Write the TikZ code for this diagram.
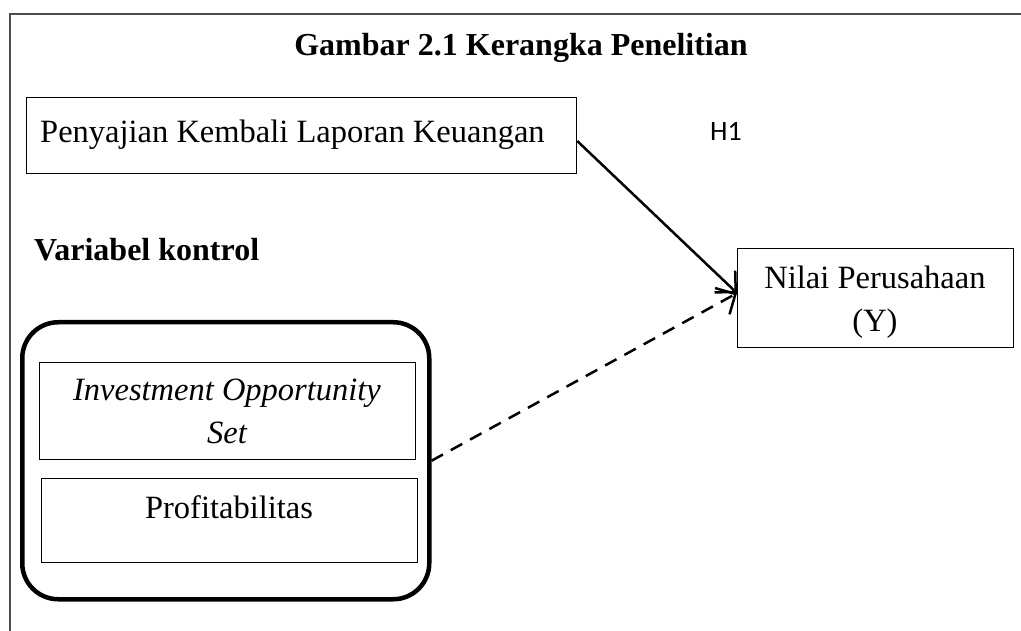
\documentclass[tikz,border=0pt]{standalone}
\usepackage{fontspec}
\setmainfont{Liberation Serif}
\newfontfamily\calibrifont{Carlito}
\usetikzlibrary{arrows.meta,calc}
\begin{document}
\begin{tikzpicture}[x=1pt,y=-1pt,
  box/.style={draw, line width=1.3pt, inner sep=0pt, anchor=north west},
  txt/.style={inner sep=0pt, font=\fontsize{32.5}{43}\selectfont},
  btxt/.style={inner sep=0pt, font=\bfseries\fontsize{32}{43}\selectfont},
  itxt/.style={inner sep=0pt, font=\itshape\fontsize{32.5}{43}\selectfont},
  htxt/.style={inner sep=0pt, font=\calibrifont\fontsize{28}{32}\selectfont},
  arr/.style={line width=2.5pt, -{Straight Barb[length=15pt,width=30pt]}},
  framecol/.style={draw=black!70, line width=1.6pt},
]
\useasboundingbox (0,0) rectangle (1021,631);
\draw[framecol] (1021,14) -- (10,14) -- (10,631);

\node[btxt, anchor=base] (title) at (521,56) {Gambar 2.1 Kerangka Penelitian};

\node[box, minimum width=550pt, minimum height=76pt] (pkl) at (26,97) {};
\node[txt, anchor=base west] (pkltext) at (40,143) {Penyajian Kembali Laporan Keuangan};

\node[htxt, anchor=base west] (h1) at (710,141) {H1};

\node[btxt, anchor=base west] (vk) at (34,261) {Variabel kontrol};

\node[draw, line width=4.5pt, rounded corners=36pt, minimum width=407pt, minimum height=277pt, inner sep=0pt, anchor=north west] (ctrl) at (20,320) {};

\node[box, minimum width=376pt, minimum height=97pt] (ios) at (39,362) {};
\node[itxt, anchor=base] (iostext1) at (227,400) {Investment Opportunity};
\node[itxt, anchor=base] (iostext2) at (227,443) {Set};

\node[box, minimum width=376pt, minimum height=84pt] (prof) at (41,478) {};
\node[txt, anchor=base] (proftext) at (229,518) {Profitabilitas};

\node[box, minimum width=276pt, minimum height=99pt] (nilai) at (737,248) {};
\node[txt, anchor=base] (nilaitext1) at (875,289) {Nilai Perusahaan};
\node[txt, anchor=base] (nilaitext2) at (875,332) {(Y)};

\coordinate (tip) at ($(nilai.north west)!0.45!(nilai.south west)$);
\coordinate (pkout) at ($(pkl.north east)!0.57!(pkl.south east)$);

\draw[arr] (pkout) -- (tip);
\draw[arr, dash pattern=on 13pt off 9pt] (ctrl.east) -- (tip);
\end{tikzpicture}
\end{document}
